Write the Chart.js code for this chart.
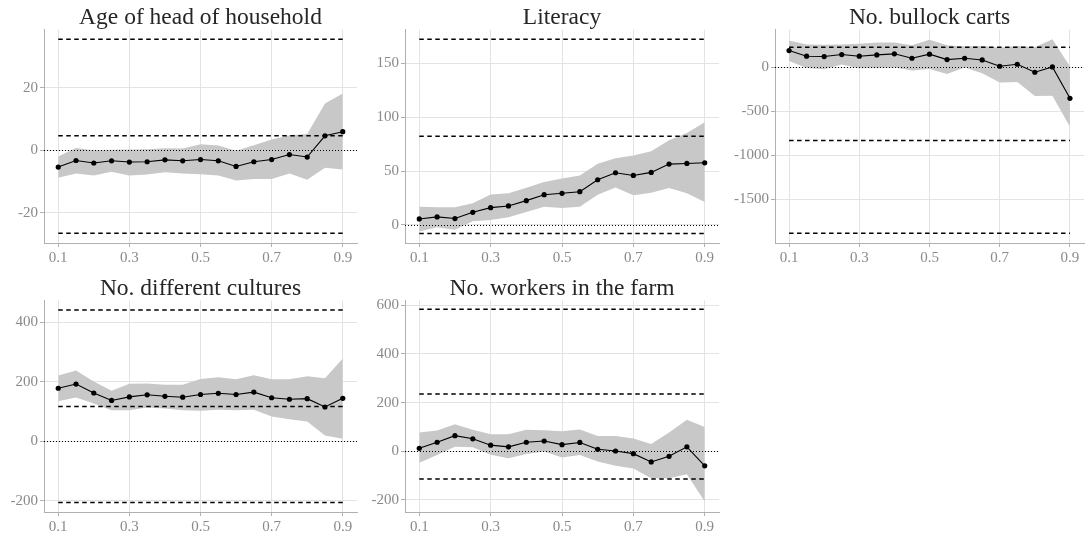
<!DOCTYPE html>
<html><head><meta charset="utf-8">
<script src="https://cdn.jsdelivr.net/npm/chart.js@4.4.1/dist/chart.umd.min.js"></script>
<style>
html,body{margin:0;padding:0;background:#fff;}
#wrap{position:relative;width:1088px;height:536px;overflow:hidden;background:#fff;}
.p{position:absolute;}
</style></head><body><div id="wrap">
<canvas class="p" id="c0" width="362" height="267" style="left:0;top:0"></canvas>
<canvas class="p" id="c1" width="362" height="267" style="left:362px;top:0"></canvas>
<canvas class="p" id="c2" width="364" height="267" style="left:724px;top:0"></canvas>
<canvas class="p" id="c3" width="362" height="266" style="left:0;top:270px"></canvas>
<canvas class="p" id="c4" width="362" height="266" style="left:362px;top:270px"></canvas>
</div>
<script>
// ---- data ----
const quantiles = [0.1,0.15,0.2,0.25,0.3,0.35,0.4,0.45,0.5,0.55,0.6,0.65,0.7,0.75,0.8,0.85,0.9];
const xTicks = [0.1,0.3,0.5,0.7,0.9];
const titles = ["Age of head of household","Literacy","No. bullock carts","No. different cultures","No. workers in the farm"];

const ageEst = [-5.3,-3.2,-4.0,-3.3,-3.7,-3.6,-3.0,-3.3,-2.9,-3.3,-5.1,-3.6,-2.9,-1.3,-2.1,4.7,6.0];
const ageHi  = [-1.9,0.8,0.1,0.2,0.3,0.4,0.7,0.6,2.0,1.6,-0.1,1.7,3.5,4.9,5.3,15.0,18.2];
const ageLo  = [-8.7,-7.4,-8.0,-6.8,-8.0,-7.7,-7.0,-7.4,-7.6,-8.0,-9.6,-9.1,-9.1,-7.4,-9.4,-5.5,-6.1];
const ageRef = [35.6,4.7,-26.5];
const ageTicks = [-20,0,20];

const litEst = [5.5,7.4,5.9,11.7,16.0,17.6,22.5,28.0,29.3,30.8,41.9,48.4,45.9,48.7,56.4,57.0,57.6];
const litHi  = [16.9,16.3,16.3,20.0,28.3,29.3,34.5,39.7,43.1,45.9,56.7,61.9,64.4,68.4,78.6,85.3,95.2];
const litLo  = [-6.2,-2.2,-4.6,3.4,4.6,7.1,12.0,16.9,15.7,16.9,28.0,34.8,27.4,29.9,34.2,29.3,21.3];
const litRef = [172.2,82.3,-8.0];
const litTicks = [0,50,100,150];

const cartEst = [189,125,121,144,125,140,152,102,148,87,102,83,11,34,-57,4,-352];
const cartHi  = [303,258,254,258,265,280,280,250,311,250,235,242,220,242,227,318,8];
const cartLo  = [72,-8,-23,30,-11,-11,-4,-38,-19,-76,-4,-68,-174,-167,-326,-322,-674];
const cartRef = [227,-831,-1883];
const cartTicks = [-1500,-1000,-500,0];

const cultEst = [178,192,162,137,149,156,151,148,157,161,157,165,146,141,143,115,144];
const cultHi  = [221,238,201,170,193,194,190,190,209,215,208,222,208,208,218,212,278];
const cultLo  = [134,147,127,104,104,113,110,104,102,106,104,106,83,74,66,19,8];
const cultRef = [441,117,-206];
const cultTicks = [-200,0,200,400];

const workEst = [12,37,64,51,25,18,37,42,27,36,8,1,-10,-44,-21,18,-60];
const workHi  = [77,85,111,88,70,70,88,86,82,89,63,63,52,30,77,129,100];
const workLo  = [-47,-16,18,16,-15,-29,-11,-1,-26,-16,-42,-60,-71,-111,-111,-95,-207];
const workRef = [584,235,-114];
const workTicks = [-200,0,200,400,600];

// ---- panel layout (styles only) ----
const panels = [
  {id:'c0', est:ageEst, hi:ageHi, lo:ageLo, ref:ageRef, ticks:ageTicks, ymin:-29.6, ymax:38.7, yw:44, pr:5, tp:6},
  {id:'c1', est:litEst, hi:litHi, lo:litLo, ref:litRef, ticks:litTicks, ymin:-16.8, ymax:181.3, yw:43, pr:5, tp:6},
  {id:'c2', est:cartEst, hi:cartHi, lo:cartLo, ref:cartRef, ticks:cartTicks, ymin:-1993, ymax:428, yw:51, pr:0, tp:6},
  {id:'c3', est:cultEst, hi:cultHi, lo:cultLo, ref:cultRef, ticks:cultTicks, ymin:-238, ymax:473, yw:44, pr:5, tp:7},
  {id:'c4', est:workEst, hi:workHi, lo:workLo, ref:workRef, ticks:workTicks, ymin:-250, ymax:620, yw:43, pr:5, tp:7}
];

const SERIF = "'Liberation Serif', 'Times New Roman', serif";
const xy = (arr) => quantiles.map((x,i) => ({x:x, y:arr[i]}));

const zeroLine = {
  id:'zeroLine',
  afterDatasetsDraw(chart){
    const {ctx, chartArea, scales} = chart;
    const y = Math.round(scales.y.getPixelForValue(0)) + 0.5;
    ctx.save();
    ctx.strokeStyle = '#000';
    ctx.lineWidth = 1;
    ctx.setLineDash([1,2]);
    ctx.beginPath();
    ctx.moveTo(chartArea.left, y);
    ctx.lineTo(chartArea.right, y);
    ctx.stroke();
    ctx.restore();
  }
};

panels.forEach((p, k) => {
  const datasets = [
    {data: xy(p.est), borderColor:'#000', borderWidth:1.1, pointRadius:2.6, pointBackgroundColor:'#000',
     pointBorderWidth:0, fill:false, order:0, tension:0},
  ];
  p.ref.forEach(v => {
    datasets.push({data:[{x:quantiles[0], y:v},{x:quantiles[quantiles.length-1], y:v}],
      borderColor:'#000', borderWidth:1.5, borderDash:[4.5,3.5], pointRadius:0, fill:false, order:1});
  });
  datasets.push({data: xy(p.hi), borderWidth:0, borderColor:'rgba(0,0,0,0)', pointRadius:0,
    backgroundColor:'#c8c8c8', fill:'+1', order:3});
  datasets.push({data: xy(p.lo), borderWidth:0, borderColor:'rgba(0,0,0,0)', pointRadius:0,
    backgroundColor:'#c8c8c8', fill:false, order:4});

  new Chart(document.getElementById(p.id), {
    type:'line',
    data:{datasets},
    plugins:[zeroLine],
    options:{
      responsive:false,
      animation:false,
      events:[],
      layout:{padding:{left:0, right:p.pr, top:0, bottom:0}},
      plugins:{
        legend:{display:false},
        tooltip:{enabled:false},
        title:{display:true, text:titles[k], fullSize:false, color:'#262626',
          font:{family:SERIF, size:23.5, weight:'normal', lineHeight:1},
          padding:{top:p.tp, bottom:0}}
      },
      scales:{
        x:{type:'linear', min:0.06, max:0.94,
          afterBuildTicks(s){ s.ticks = xTicks.map(v => ({value:v})); },
          afterFit(s){ s.height = 24; },
          ticks:{color:'#8a8a8a', font:{family:SERIF, size:15}, padding:2,
            callback:(v) => v.toFixed(1), maxRotation:0, autoSkip:false},
          grid:{color:'#e3e3e3', lineWidth:1, drawTicks:true, tickLength:4, tickColor:'#b0b0b0'},
          border:{display:true, color:'#b0b0b0', width:1}
        },
        y:{type:'linear', min:p.ymin, max:p.ymax,
          afterBuildTicks(s){ s.ticks = p.ticks.map(v => ({value:v})); },
          afterFit(s){ s.width = p.yw; },
          ticks:{color:'#8a8a8a', font:{family:SERIF, size:15}, padding:2,
            callback:(v) => String(v), autoSkip:false},
          grid:{color:'#e3e3e3', lineWidth:1, drawTicks:true, tickLength:4, tickColor:'#b0b0b0'},
          border:{display:true, color:'#b0b0b0', width:1}
        }
      }
    }
  });
});
</script>
</body></html>
